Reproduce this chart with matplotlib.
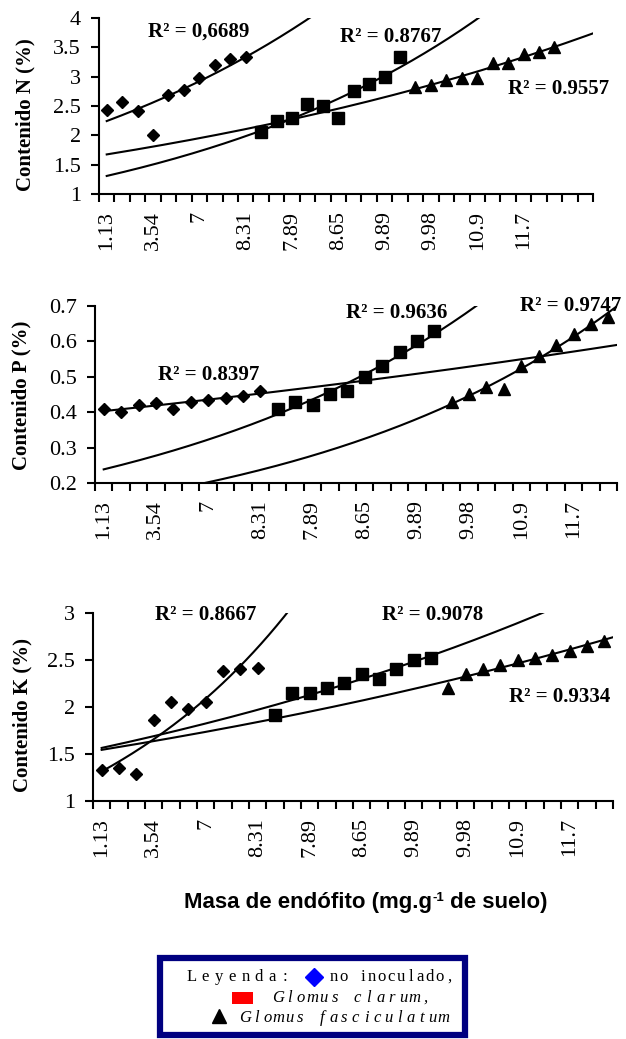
import numpy as np
import matplotlib
matplotlib.use('Agg')
import matplotlib.pyplot as plt
from matplotlib.patches import Rectangle

plt.rcParams['font.family'] = ['Liberation Serif', 'DejaVu Serif']

# category labels (one every third category)
xlabels = ['1.13', '3.54', '7', '8.31', '7.89', '8.65', '9.89', '9.98', '10.9', '11.7']

# N content (%)
n_no_inoc = [2.43, 2.56, 2.41, 2.00, 2.68, 2.78, 2.98, 3.20, 3.30, 3.33]
n_clarum = [2.05, 2.25, 2.30, 2.54, 2.50, 2.30, 2.75, 2.88, 3.00, 3.33]
n_fasc = [2.83, 2.86, 2.94, 2.97, 2.98, 3.24, 3.24, 3.38, 3.42, 3.50]
n_r2 = ['R² = 0,6689', 'R² = 0.8767', 'R² = 0.9557']

# P content (%)
p_no_inoc = [0.41, 0.40, 0.42, 0.425, 0.41, 0.43, 0.435, 0.44, 0.445, 0.46]
p_clarum = [0.41, 0.43, 0.42, 0.45, 0.46, 0.50, 0.53, 0.57, 0.60, 0.63]
p_fasc = [0.43, 0.45, 0.47, 0.465, 0.53, 0.56, 0.59, 0.62, 0.65, 0.67]
p_r2 = ['R² = 0.8397', 'R² = 0.9636', 'R² = 0.9747']

# K content (%)
k_no_inoc = [1.33, 1.35, 1.29, 1.86, 2.05, 1.98, 2.05, 2.38, 2.40, 2.42]
k_clarum = [1.92, 2.15, 2.15, 2.20, 2.26, 2.35, 2.30, 2.40, 2.50, 2.52]
k_fasc = [2.20, 2.35, 2.40, 2.45, 2.50, 2.52, 2.55, 2.60, 2.65, 2.70]
k_r2 = ['R² = 0.8667', 'R² = 0.9078', 'R² = 0.9334']

W, H = 626, 1039
fig = plt.figure(figsize=(W / 100, H / 100), dpi=100)
over = fig.add_axes([0, 0, 1, 1])
over.set_xlim(0, W)
over.set_ylim(H, 0)
over.axis('off')


def px_axes(left, right, top, bottom):
    return fig.add_axes([left / W, 1 - bottom / H, (right - left) / W, (bottom - top) / H])


def panel(ax, ncat, series, ylim, yticks, r2, r2_pos):
    markers = [('D', 6.5), ('s', 8), ('^', 8)]
    start = 0
    for vals, (m, ms) in zip(series, markers):
        x = np.arange(start, start + len(vals)) + 1.0
        ax.plot(x - 0.5, vals, linestyle='none', marker=m, ms=ms, color='black',
                clip_on=False, zorder=3)
        # exponential trendline (Excel style), extended across the axis
        b, a = np.polyfit(x, np.log(vals), 1)
        xx = np.linspace(1, ncat + 0.5, 200)
        ax.plot(xx - 0.5, np.exp(a + b * xx), color='black', lw=1.5, zorder=2)
        start += len(vals)
    for txt, (tx, ty) in zip(r2, r2_pos):
        ax.text(tx, ty, txt, fontsize=15, fontweight='bold', ha='left', va='center',
                clip_on=False)
    ax.set_xlim(0, ncat)
    ax.set_ylim(*ylim)
    ax.set_yticks(yticks)
    ax.set_yticklabels([('%g' % v) for v in yticks], fontsize=16)
    ax.set_xticks(np.arange(ncat + 1))
    ax.set_xticklabels([])
    ax.set_xticks(np.arange(len(xlabels)) * 3 + 0.5, minor=True)
    ax.set_xticklabels(xlabels, minor=True, rotation=90, fontsize=16)
    ax.tick_params(which='major', direction='out', length=6, width=1.5)
    ax.tick_params(axis='y', pad=7)
    ax.tick_params(axis='x', which='minor', length=0, pad=12)
    for s in ['top', 'right']:
        ax.spines[s].set_visible(False)
    for s in ['left', 'bottom']:
        ax.spines[s].set_linewidth(1.5)


ax1 = px_axes(99, 593, 18, 194)
panel(ax1, 32, [n_no_inoc, n_clarum, n_fasc], (1, 4), [1, 1.5, 2, 2.5, 3, 3.5, 4],
      n_r2, [(3.2, 3.76), (15.6, 3.68), (26.5, 2.79)])

ax2 = px_axes(95, 617, 306, 483)
panel(ax2, 30, [p_no_inoc, p_clarum, p_fasc], (0.2, 0.7), [0.2, 0.3, 0.4, 0.5, 0.6, 0.7],
      p_r2, [(3.6, 0.505), (14.4, 0.68), (24.4, 0.70)])

ax3 = px_axes(93, 613, 613, 801)
panel(ax3, 30, [k_no_inoc, k_clarum, k_fasc], (1, 3), [1, 1.5, 2, 2.5, 3],
      k_r2, [(3.6, 2.98), (16.7, 2.98), (24.0, 2.11)])

# y labels
for txt, (lx, ly) in zip(['Contenido N (%)', 'Contenido P (%)', 'Contenido K (%)'],
                         [(25, 115), (21, 395), (22, 715)]):
    over.text(lx, ly, txt, rotation=90, fontsize=15, fontweight='bold',
              ha='center', va='center')

# common x label, built in three pieces so the superscript keeps a plain hyphen
renderer = fig.canvas.get_renderer()
inv = over.transData.inverted()
xl_font = dict(fontweight='bold', family='Liberation Sans', va='baseline', ha='left')
pieces = [('Masa de endófito (mg.g', 16, 0), ('-1', 9.5, -7), (' de suelo)', 16, 0)]
texts = []
xpos = 0
for s, fs, dy in pieces:
    t = over.text(xpos, 908 + dy, s, fontsize=fs, **xl_font)
    bb = t.get_window_extent(renderer)
    x0, _ = inv.transform((bb.x0, bb.y0))
    x1, _ = inv.transform((bb.x1, bb.y0))
    texts.append(t)
    xpos += x1 - x0
shift = 366 - xpos / 2
for t in texts:
    t.set_x(t.get_position()[0] + shift)

# legend box
over.add_patch(Rectangle((160, 958), 305, 77, facecolor='white', edgecolor='#000080',
                         lw=4.5))
leg_font = dict(fontsize=12, family=['Liberation Serif', 'DejaVu Serif'], va='center',
                ha='center')


def spaced(x0, y, s, pitch, **kw):
    for i, ch in enumerate(s):
        over.text(x0 + pitch * (i + 0.5), y, ch, **leg_font, **kw)


spaced(185, 977, 'Leyenda:', 13.4)
over.plot([314], [977], marker='D', ms=9, color='blue', linestyle='none')
spaced(329, 977, 'no inoculado,', 9.6)
over.add_patch(Rectangle((232, 992), 21, 12, facecolor='red', edgecolor='none'))
spaced(272, 998, 'Glomus clarum,', 11.4, style='italic')
over.plot([219], [1016], marker='^', ms=10, color='black', linestyle='none')
spaced(240, 1018, 'Glomus fasciculatum', 11.0, style='italic')

fig.savefig('out.png', dpi=100)
